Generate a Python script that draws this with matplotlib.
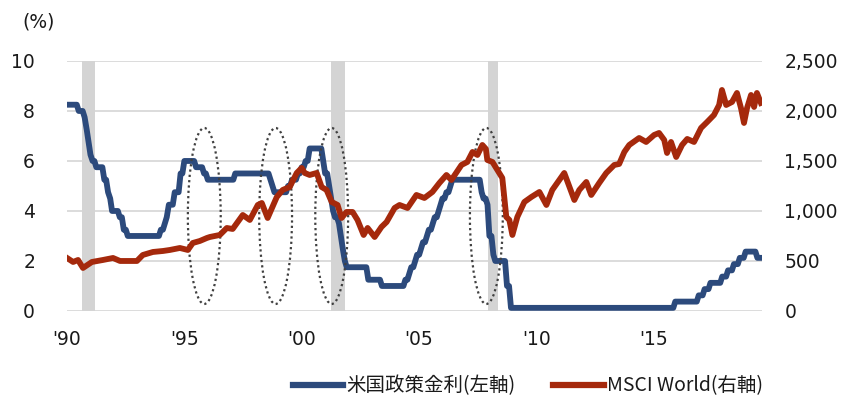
import matplotlib
matplotlib.use('Agg')
import matplotlib.pyplot as plt
from matplotlib.patches import Ellipse
from matplotlib.lines import Line2D

# US policy rate (left axis): change dates and levels
rate_dates = [1990.00, 1990.50, 1990.75, 1990.84, 1990.92, 1991.00, 1991.09, 1991.25,
              1991.59, 1991.75, 1991.84, 1991.92, 1992.25, 1992.42, 1992.59, 1994.00,
              1994.17, 1994.25, 1994.34, 1994.59, 1994.84, 1995.00, 1995.50, 1995.84,
              1996.00, 1997.17, 1998.67, 1998.75, 1998.84, 1999.42, 1999.59, 1999.84,
              2000.00, 2000.17, 2000.34, 2000.92, 2001.00, 2001.17, 2001.25, 2001.34,
              2001.42, 2001.59, 2001.67, 2001.75, 2001.84, 2001.92, 2002.84, 2003.42,
              2004.42, 2004.59, 2004.67, 2004.84, 2004.92, 2005.09, 2005.17, 2005.34,
              2005.42, 2005.59, 2005.67, 2005.84, 2005.92, 2006.00, 2006.17, 2006.34,
              2006.42, 2007.67, 2007.75, 2007.92, 2008.00, 2008.17, 2008.25, 2008.75,
              2008.92, 2015.92, 2016.92, 2017.17, 2017.42, 2017.92, 2018.17, 2018.42,
              2018.67, 2018.92, 2019.42, 2019.57]
rate_levels = [8.25, 8.0, 7.75, 7.25, 6.75, 6.25, 6.0, 5.75,
               5.25, 4.75, 4.5, 4.0, 3.75, 3.25, 3.0, 3.25,
               3.5, 3.75, 4.25, 4.75, 5.5, 6.0, 5.75, 5.5,
               5.25, 5.5, 5.25, 5.0, 4.75, 5.0, 5.25, 5.5,
               5.75, 6.0, 6.5, 6.0, 5.5, 5.0, 4.5, 4.0,
               3.75, 3.5, 3.0, 2.5, 2.0, 1.75, 1.25, 1.0,
               1.25, 1.5, 1.75, 2.0, 2.25, 2.5, 2.75, 3.0,
               3.25, 3.5, 3.75, 4.0, 4.25, 4.5, 4.75, 5.0,
               5.25, 4.75, 4.5, 4.25, 3.0, 2.25, 2.0, 1.0,
               0.125, 0.375, 0.625, 0.875, 1.125, 1.375, 1.625, 1.875,
               2.125, 2.375, 2.125, 2.125]

# MSCI World (right axis)
msci_dates = [1990.00, 1990.26, 1990.47, 1990.68, 1991.06, 1991.53, 1991.96, 1992.26,
              1992.98, 1993.23, 1993.66, 1994.09, 1994.38, 1994.81, 1995.15, 1995.36,
              1995.66, 1995.96, 1996.09, 1996.51, 1996.81, 1997.06, 1997.49, 1997.79,
              1998.13, 1998.30, 1998.55, 1998.94, 1999.19, 1999.49, 1999.79, 2000.00,
              2000.13, 2000.34, 2000.64, 2000.85, 2001.06, 2001.28, 2001.53, 2001.70,
              2001.91, 2002.17, 2002.38, 2002.64, 2002.81, 2003.11, 2003.40, 2003.62,
              2003.96, 2004.17, 2004.51, 2004.89, 2005.23, 2005.57, 2005.87, 2006.17,
              2006.38, 2006.81, 2007.06, 2007.28, 2007.49, 2007.70, 2007.85, 2007.91,
              2008.13, 2008.34, 2008.55, 2008.72, 2008.85, 2008.98, 2009.19, 2009.49,
              2009.79, 2010.13, 2010.43, 2010.68, 2011.19, 2011.62, 2011.83, 2012.13,
              2012.34, 2012.68, 2012.98, 2013.32, 2013.53, 2013.75, 2013.96, 2014.38,
              2014.68, 2015.02, 2015.23, 2015.45, 2015.57, 2015.74, 2015.96, 2016.21,
              2016.43, 2016.72, 2017.02, 2017.28, 2017.57, 2017.79, 2017.91, 2018.09,
              2018.34, 2018.55, 2018.72, 2018.85, 2018.98, 2019.15, 2019.28, 2019.40,
              2019.57]
msci_values = [530, 490, 510, 430, 490, 510, 530, 500,
               500, 560, 590, 600, 610, 630, 610, 680,
               700, 730, 740, 760, 830, 820, 960, 910,
               1060, 1080, 930, 1140, 1210, 1240, 1380, 1430,
               1380, 1360, 1380, 1240, 1210, 1090, 1060, 930,
               990, 990, 910, 760, 830, 740, 840, 890,
               1030, 1060, 1030, 1160, 1130, 1190, 1280, 1360,
               1310, 1460, 1490, 1590, 1560, 1660, 1620, 1510,
               1490, 1410, 1330, 940, 910, 760, 940, 1090,
               1140, 1190, 1060, 1210, 1380, 1110, 1210, 1290,
               1160, 1280, 1380, 1460, 1470, 1590, 1660, 1730,
               1690, 1760, 1780, 1710, 1580, 1690, 1540, 1660,
               1720, 1690, 1830, 1890, 1960, 2060, 2210, 2060,
               2090, 2180, 2030, 1880, 2030, 2160, 2040, 2180,
               2080]

recessions = [(1990.64, 1991.19), (2001.23, 2001.83), (2007.96, 2008.37)]
ellipse_centers = [1995.85, 1998.89, 2001.28, 2007.87]

x_ticks = [1990, 1995, 2000, 2005, 2010, 2015]
x_labels = ["'90", "'95", "'00", "'05", "'10", "'15"]

blue = '#2C4A7C'
red = '#A5290C'
cjk = ['Noto Sans CJK JP', 'DejaVu Sans']
plt.rcParams['font.family'] = ['DejaVu Sans']

# each rate change is drawn as a one-month slope, like a monthly series
rx, ry = [], []
for i, (d, lv) in enumerate(zip(rate_dates, rate_levels)):
    rx.append(d)
    ry.append(lv)
    if i + 1 < len(rate_dates) and rate_dates[i + 1] - 1 / 12 > d + 0.01:
        rx.append(rate_dates[i + 1] - 1 / 12)
        ry.append(lv)

fig = plt.figure(figsize=(8.58, 3.99), dpi=100)
ax1 = fig.add_axes([0.0781, 0.2206, 0.8101, 0.6266])
ax2 = ax1.twinx()

for start, end in recessions:
    ax1.axvspan(start, end, color='#D4D4D4', lw=0, zorder=1)

ax1.plot(rx, ry, color=blue, lw=4.2, solid_joinstyle='round', zorder=3)

for cx in ellipse_centers:
    ax1.add_patch(Ellipse((cx, 3.8), 1.4, 7.04, fill=False, ec='#404040',
                          lw=1.6, ls=(0, (1, 1.4)), zorder=4))

ax2.plot(msci_dates, msci_values, color=red, lw=4.2, solid_joinstyle='round', zorder=3)

ax1.set_xlim(1990, 2019.62)
ax1.set_ylim(0, 10)
ax2.set_ylim(0, 2500)
ax1.set_yticks([0, 2, 4, 6, 8, 10])
ax2.set_yticks([0, 500, 1000, 1500, 2000, 2500])
ax2.set_yticklabels(['0', '500', '1,000', '1,500', '2,000', '2,500'])
ax1.set_xticks(x_ticks)
ax1.set_xticklabels(x_labels)

ax1.grid(axis='y', color='#D9D9D9', lw=1.3, zorder=0)
ax1.set_axisbelow(True)
for ax in (ax1, ax2):
    for s in ax.spines.values():
        s.set_visible(False)
    ax.tick_params(length=0, labelsize=13.5, colors='#1A1A1A')
ax1.tick_params(axis='y', pad=23)
ax1.tick_params(axis='x', pad=14)
ax2.tick_params(axis='y', pad=16)

fig.text(22 / 858, 1 - 12 / 399, '(%)', fontsize=13.5, va='top', ha='left', color='#1A1A1A')

handles = [Line2D([], [], color=blue, lw=4.5), Line2D([], [], color=red, lw=4.5)]
fig.legend(handles, ['米国政策金利(左軸)', 'MSCI World(右軸)'], loc='center',
           bbox_to_anchor=(0.615, 0.033), ncol=2, frameon=False,
           prop={'family': cjk, 'size': 14}, handlelength=2.6,
           handletextpad=0.15, columnspacing=1.95, labelcolor='#1A1A1A')

fig.savefig('out.png', dpi=100)
